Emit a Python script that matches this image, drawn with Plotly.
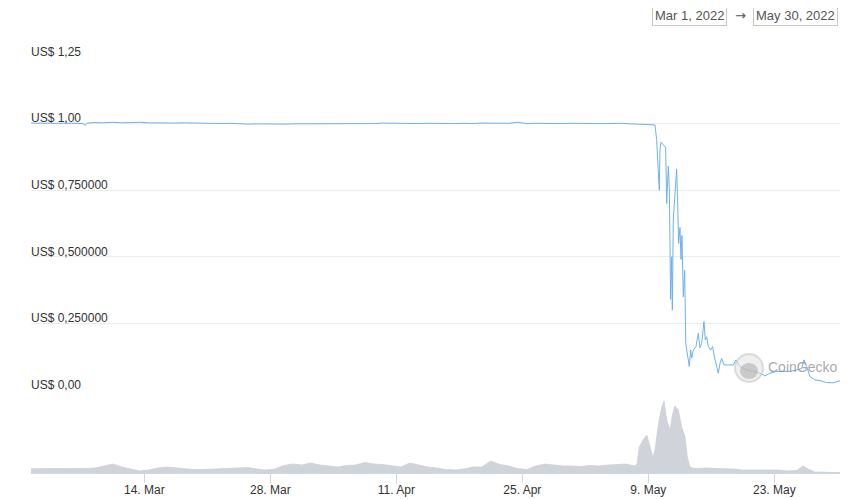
import plotly.graph_objects as go

# ---------------- data ----------------
price_times = [
    "2022-03-01 10:00", "2022-03-02 12:00", "2022-03-03 12:00", "2022-03-04 12:00",
    "2022-03-05 12:00", "2022-03-06 12:00", "2022-03-07 06:00", "2022-03-07 10:00",
    "2022-03-07 16:00", "2022-03-08 12:00", "2022-03-09 12:00", "2022-03-10 12:00",
    "2022-03-11 12:00", "2022-03-12 12:00", "2022-03-13 12:00", "2022-03-14 12:00",
    "2022-03-15 12:00", "2022-03-16 12:00", "2022-03-17 12:00", "2022-03-18 12:00",
    "2022-03-19 12:00", "2022-03-20 12:00", "2022-03-21 12:00", "2022-03-22 12:00",
    "2022-03-23 12:00", "2022-03-24 12:00", "2022-03-25 12:00", "2022-03-26 12:00",
    "2022-03-27 12:00", "2022-03-28 12:00", "2022-03-29 12:00", "2022-03-30 12:00",
    "2022-03-31 12:00", "2022-04-01 12:00", "2022-04-02 12:00", "2022-04-03 12:00",
    "2022-04-04 12:00", "2022-04-05 12:00", "2022-04-06 12:00", "2022-04-07 12:00",
    "2022-04-08 12:00", "2022-04-09 12:00", "2022-04-10 12:00", "2022-04-11 12:00",
    "2022-04-12 12:00", "2022-04-13 12:00", "2022-04-14 12:00", "2022-04-15 12:00",
    "2022-04-16 12:00", "2022-04-17 12:00", "2022-04-18 12:00", "2022-04-19 12:00",
    "2022-04-20 12:00", "2022-04-21 12:00", "2022-04-22 12:00", "2022-04-23 12:00",
    "2022-04-24 12:00", "2022-04-25 12:00", "2022-04-26 12:00", "2022-04-27 12:00",
    "2022-04-28 12:00", "2022-04-29 12:00", "2022-04-30 12:00", "2022-05-01 12:00",
    "2022-05-02 12:00", "2022-05-03 12:00", "2022-05-04 12:00", "2022-05-05 12:00",
    "2022-05-06 00:00", "2022-05-07 00:00", "2022-05-08 00:00", "2022-05-09 00:00",
    "2022-05-09 17:45", "2022-05-09 22:20", "2022-05-10 02:40", "2022-05-10 05:15",
    "2022-05-10 07:10", "2022-05-10 09:50", "2022-05-10 16:00", "2022-05-10 22:20",
    "2022-05-11 01:00", "2022-05-11 05:15", "2022-05-11 08:00", "2022-05-11 09:50",
    "2022-05-11 11:30", "2022-05-11 14:25", "2022-05-11 16:05", "2022-05-11 18:40",
    "2022-05-11 23:15", "2022-05-12 03:35", "2022-05-12 06:15", "2022-05-12 08:50",
    "2022-05-12 12:30", "2022-05-12 15:10", "2022-05-12 17:45", "2022-05-12 21:20",
    "2022-05-13 01:00", "2022-05-13 03:50", "2022-05-13 06:30", "2022-05-13 10:50",
    "2022-05-13 13:25", "2022-05-13 17:00", "2022-05-13 19:40", "2022-05-14 00:00",
    "2022-05-14 07:10", "2022-05-14 13:25", "2022-05-14 17:45", "2022-05-14 22:20",
    "2022-05-15 04:30", "2022-05-15 08:00", "2022-05-15 11:30", "2022-05-15 16:05",
    "2022-05-15 22:20", "2022-05-16 03:35", "2022-05-16 08:00", "2022-05-16 14:25",
    "2022-05-16 18:40", "2022-05-16 23:15", "2022-05-17 03:35", "2022-05-17 09:50",
    "2022-05-17 21:20", "2022-05-18 10:50", "2022-05-18 17:45", "2022-05-19 04:30",
    "2022-05-19 22:20", "2022-05-20 16:05", "2022-05-21 09:50", "2022-05-21 23:00",
    "2022-05-22 12:00", "2022-05-23 06:30", "2022-05-24 00:00", "2022-05-24 17:45",
    "2022-05-25 11:30", "2022-05-26 01:00", "2022-05-26 07:10", "2022-05-26 14:25",
    "2022-05-26 23:15", "2022-05-27 12:00", "2022-05-28 02:00", "2022-05-28 19:40",
    "2022-05-29 13:25", "2022-05-30 07:10",
]
price_usd = [
    1.002, 1.001, 1.002, 1.001,
    1.002, 1.001, 1.000, 0.993,
    1.002, 1.004, 1.003, 1.005,
    1.003, 1.004, 1.005, 1.003,
    1.002, 1.003, 1.002, 1.003,
    1.002, 1.001, 1.002, 1.000,
    1.001, 0.999, 0.998, 0.999,
    0.998, 0.999, 0.998, 0.999,
    0.999, 1.000, 0.999, 1.000,
    1.000, 1.001, 1.000, 1.001,
    1.000, 1.002, 1.001, 1.002,
    1.001, 1.000, 1.001, 1.000,
    1.001, 1.000, 1.001, 1.000,
    1.002, 1.001, 1.000, 1.001,
    1.005, 1.000, 1.001, 1.000,
    1.001, 1.000, 1.001, 1.000,
    1.001, 1.000, 1.000, 1.001,
    1.001, 0.999, 0.998, 0.997,
    0.995, 0.94, 0.80, 0.75,
    0.90, 0.93, 0.92, 0.91,
    0.70, 0.84, 0.76, 0.49,
    0.34, 0.50, 0.30, 0.64,
    0.73, 0.83, 0.71, 0.55,
    0.61, 0.49, 0.58, 0.35,
    0.45, 0.177, 0.15, 0.10,
    0.088, 0.15, 0.12, 0.15,
    0.163, 0.213, 0.158, 0.175,
    0.257, 0.188, 0.20, 0.163,
    0.15, 0.163, 0.125, 0.088,
    0.063, 0.10, 0.119, 0.094,
    0.094, 0.094, 0.113, 0.088,
    0.075, 0.070, 0.063, 0.053,
    0.063, 0.070, 0.070, 0.070,
    0.075, 0.081, 0.113, 0.088,
    0.050, 0.038, 0.035, 0.028,
    0.027, 0.035,
]

vol_times = [
    "2022-03-01 10:00", "2022-03-02 12:00", "2022-03-03 12:00", "2022-03-04 12:00",
    "2022-03-05 12:00", "2022-03-06 12:00", "2022-03-07 12:00", "2022-03-08 12:00",
    "2022-03-09 12:00", "2022-03-10 12:00", "2022-03-11 12:00", "2022-03-12 12:00",
    "2022-03-13 12:00", "2022-03-14 12:00", "2022-03-15 12:00", "2022-03-16 12:00",
    "2022-03-17 12:00", "2022-03-18 12:00", "2022-03-19 12:00", "2022-03-20 12:00",
    "2022-03-21 12:00", "2022-03-22 12:00", "2022-03-23 12:00", "2022-03-24 12:00",
    "2022-03-25 12:00", "2022-03-26 12:00", "2022-03-27 12:00", "2022-03-28 12:00",
    "2022-03-29 12:00", "2022-03-30 12:00", "2022-03-31 12:00", "2022-04-01 12:00",
    "2022-04-02 12:00", "2022-04-03 12:00", "2022-04-04 12:00", "2022-04-05 12:00",
    "2022-04-06 12:00", "2022-04-07 12:00", "2022-04-08 12:00", "2022-04-09 12:00",
    "2022-04-10 12:00", "2022-04-11 12:00", "2022-04-12 12:00", "2022-04-13 12:00",
    "2022-04-14 12:00", "2022-04-15 12:00", "2022-04-16 12:00", "2022-04-17 12:00",
    "2022-04-18 12:00", "2022-04-19 12:00", "2022-04-20 12:00", "2022-04-21 12:00",
    "2022-04-22 12:00", "2022-04-23 12:00", "2022-04-24 12:00", "2022-04-25 12:00",
    "2022-04-26 12:00", "2022-04-27 12:00", "2022-04-28 12:00", "2022-04-29 12:00",
    "2022-04-30 12:00", "2022-05-01 12:00", "2022-05-02 12:00", "2022-05-03 12:00",
    "2022-05-04 12:00", "2022-05-05 12:00", "2022-05-06 12:00", "2022-05-07 12:00",
    "2022-05-07 18:00", "2022-05-08 00:00", "2022-05-08 10:00", "2022-05-08 20:00",
    "2022-05-09 04:00", "2022-05-09 12:00", "2022-05-09 18:00", "2022-05-10 03:00",
    "2022-05-10 12:00", "2022-05-10 18:00", "2022-05-11 01:00", "2022-05-11 10:00",
    "2022-05-11 17:00", "2022-05-11 23:00", "2022-05-12 08:00", "2022-05-12 17:00",
    "2022-05-13 02:00", "2022-05-13 08:00", "2022-05-13 15:00", "2022-05-13 23:00",
    "2022-05-14 12:00", "2022-05-15 12:00", "2022-05-16 12:00", "2022-05-17 12:00",
    "2022-05-18 12:00", "2022-05-19 12:00", "2022-05-20 12:00", "2022-05-21 12:00",
    "2022-05-22 12:00", "2022-05-23 12:00", "2022-05-24 12:00", "2022-05-25 12:00",
    "2022-05-26 05:00", "2022-05-26 18:00", "2022-05-27 12:00", "2022-05-28 12:00",
    "2022-05-29 12:00", "2022-05-30 07:10",
]
volume_busd = [
    0.43, 0.43, 0.45, 0.45,
    0.40, 0.38, 0.45, 0.50,
    0.70, 0.90, 0.60, 0.40,
    0.20, 0.30, 0.50, 0.60,
    0.50, 0.40, 0.35, 0.35,
    0.40, 0.45, 0.50, 0.50,
    0.55, 0.40, 0.30, 0.40,
    0.75, 0.90, 0.80, 1.00,
    0.80, 0.70, 0.60, 0.75,
    0.80, 1.05, 0.90, 0.85,
    0.70, 0.60, 1.00, 0.80,
    0.60, 0.50, 0.35, 0.30,
    0.40, 0.60, 0.60, 1.20,
    0.85, 0.70, 0.45, 0.35,
    0.70, 0.90, 0.80, 0.70,
    0.70, 0.65, 0.75, 0.70,
    0.80, 0.85, 0.90, 0.70,
    0.90, 2.60, 3.30, 3.80,
    2.60, 1.60, 2.30, 4.90,
    6.60, 7.20, 5.30, 4.30,
    5.90, 6.70, 6.30, 4.60,
    3.60, 1.60, 0.60, 0.50,
    0.45, 0.50, 0.45, 0.45,
    0.40, 0.30, 0.30, 0.30,
    0.35, 0.30, 0.20, 0.25,
    0.70, 0.40, 0.10, 0.05,
    0.05, 0.05,
]

tick_vals = ["2022-03-14", "2022-03-28", "2022-04-11", "2022-04-25", "2022-05-09", "2022-05-23"]
tick_text = ["14. Mar", "28. Mar", "11. Apr", "25. Apr", "9. May", "23. May"]
price_tick_vals = [0, 0.25, 0.5, 0.75, 1.0, 1.25]
price_tick_text = ["US$ 0,00", "US$ 0,250000", "US$ 0,500000", "US$ 0,750000", "US$ 1,00", "US$ 1,25"]

FONT = "Liberation Sans, Arial, sans-serif"

fig = go.Figure()
fig.add_trace(go.Scatter(
    x=vol_times, y=volume_busd, yaxis="y2", mode="lines",
    line=dict(color="rgb(205,209,215)", width=0.8),
    fill="tozeroy", fillcolor="rgba(205,209,215,0.95)",
    hoverinfo="skip", showlegend=False,
))
fig.add_trace(go.Scatter(
    x=price_times, y=price_usd, mode="lines",
    line=dict(color="#6fb1ee", width=1),
    showlegend=False,
))

# the page body adds an 8px offset, so the figure is 8px smaller than the window
fig.update_layout(
    width=843, height=491,
    margin=dict(l=23, r=11, t=49, b=26, autoexpand=False),
    paper_bgcolor="white", plot_bgcolor="white",
    font=dict(family=FONT, size=12, color="#333333"),
    xaxis=dict(
        type="date", anchor="y2", automargin=False,
        range=["2022-03-01 09:52", "2022-05-30 07:12"],
        tickvals=tick_vals, ticktext=tick_text,
        ticks="outside", ticklen=9, tickcolor="#ccd6eb", tickwidth=1,
        ticklabelstandoff=-3,
        showline=True, linecolor="#ccd6eb", linewidth=1,
        showgrid=False, zeroline=False,
        tickfont=dict(size=12, color="#333333"),
    ),
    yaxis=dict(
        domain=[0.1995, 1.0], range=[0, 1.25], automargin=False,
        tickvals=price_tick_vals, ticktext=price_tick_text,
        ticklabelposition="inside top", ticklabeloverflow="allow",
        ticklabelshift=3, ticklabelstandoff=-3,
        showgrid=True, gridcolor="#ececec", gridwidth=1,
        zeroline=False, showline=False, ticks="",
        tickfont=dict(size=12, color="#333333"),
    ),
    yaxis2=dict(
        domain=[0, 0.1731], range=[0, 7.2], automargin=False,
        showgrid=False, zeroline=False, showticklabels=False, showline=False,
    ),
)

# date range boxes
fig.add_annotation(xref="paper", yref="paper", x=0.8134, y=1.0998,
                   xanchor="center", yanchor="middle",
                   text="Mar 1, 2022", showarrow=False,
                   font=dict(size=13, color="#555555", family=FONT),
                   bordercolor="#c8c8c8", borderwidth=1, borderpad=2, bgcolor="white")
fig.add_annotation(xref="paper", yref="paper", x=0.8764, y=1.0998,
                   xanchor="center", yanchor="middle",
                   text="→", showarrow=False, borderpad=3,
                   font=dict(size=13, color="#555555", family="DejaVu Sans, sans-serif"))
fig.add_annotation(xref="paper", yref="paper", x=0.9452, y=1.0998,
                   xanchor="center", yanchor="middle",
                   text="May 30, 2022", showarrow=False,
                   font=dict(size=13, color="#555555", family=FONT),
                   bordercolor="#c8c8c8", borderwidth=1, borderpad=2, bgcolor="white")

# CoinGecko watermark
fig.add_shape(type="circle", xref="paper", yref="paper",
              xsizemode="pixel", ysizemode="pixel",
              xanchor=0.8875, yanchor=0.2524,
              x0=-14, x1=14, y0=-14, y1=14,
              line=dict(color="rgba(200,200,200,0.6)", width=2),
              fillcolor="rgba(225,225,225,0.55)", layer="above")
fig.add_shape(type="circle", xref="paper", yref="paper",
              xsizemode="pixel", ysizemode="pixel",
              xanchor=0.8875, yanchor=0.2524,
              x0=-9, x1=9, y0=-11, y1=5,
              line=dict(width=0),
              fillcolor="rgba(170,170,170,0.55)", layer="above")
fig.add_annotation(xref="paper", yref="paper", x=0.9085, y=0.2548,
                   xanchor="left", yanchor="middle", text="CoinGecko", showarrow=False,
                   font=dict(size=14, color="rgba(140,140,140,0.75)", family=FONT))

fig.write_html("out.html")
